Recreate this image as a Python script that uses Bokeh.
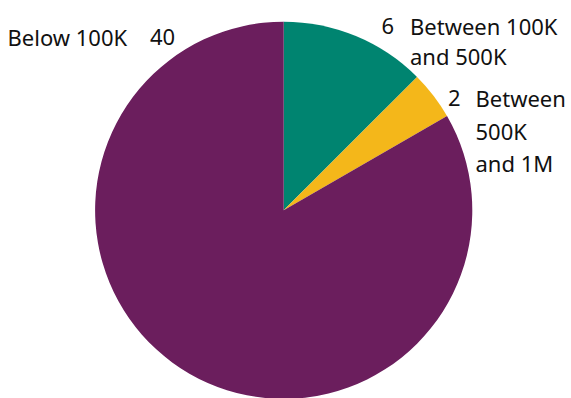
import math
from bokeh.plotting import figure
from bokeh.models import Range1d, ColumnDataSource
from bokeh.core.properties import value
from bokeh.embed import file_html
from bokeh.resources import INLINE

# ---- data ----
categories = ["Between 100K and 500K", "Between 500K and 1M", "Below 100K"]
counts = [6, 2, 40]
label_lines = [["Between 100K", "and 500K"], ["Between", "500K", "and 1M"], ["Below 100K"]]
colors = ["#008470", "#F4B71A", "#6B1E5D"]

# ---- layout (screen px of the picture) ----
W, H = 571, 398
def sx(x):
    return x
def sy(y):
    return H - y

cx, cy, r = 283.2, 209.8, 188.6
FONT = "Noto Sans"
FS = "22px"

p = figure(width=W, height=H, output_backend="svg", toolbar_location=None,
           x_range=Range1d(0, W), y_range=Range1d(0, H), min_border=0)
p.axis.visible = False
p.grid.visible = False
p.outline_line_color = None
p.background_fill_color = "white"
p.border_fill_color = "white"

total = sum(counts)
starts, ends = [], []
acc = 0
for c in counts:
    starts.append(math.pi / 2 - 2 * math.pi * acc / total)
    acc += c
    ends.append(math.pi / 2 - 2 * math.pi * acc / total)

src = ColumnDataSource(dict(x=[sx(cx)] * len(counts), y=[sy(cy)] * len(counts),
                            start=starts, end=ends, color=colors, cat=categories))
p.wedge(x="x", y="y", radius=r, start_angle="start", end_angle="end",
        direction="clock", fill_color="color", line_color=None, source=src)

# label layout: (value x, label x, first baseline, line spacing)
layout = [
    dict(vx=381.0, lx=409.5, base=25.3, gap=30.2),
    dict(vx=447.5, lx=475.0, base=97.7, gap=32.3),
    dict(vx=149.5, lx=7.0, base=36.0, gap=30.0),
]

tx, ty, tt = [], [], []
for i, lay in enumerate(layout):
    tx.append(sx(lay["vx"])); ty.append(sy(lay["base"])); tt.append(str(counts[i]))
    for j, line in enumerate(label_lines[i]):
        tx.append(sx(lay["lx"]))
        ty.append(sy(lay["base"] + j * lay["gap"]))
        tt.append(line)

p.text(x=tx, y=ty, text=tt, text_font=value(FONT), text_font_size=FS,
       text_color="#111111", text_align="left", text_baseline="alphabetic")

open("out.html", "w").write(file_html(p, INLINE))
